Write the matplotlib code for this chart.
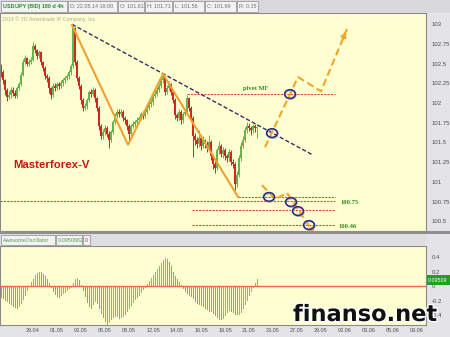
import matplotlib
matplotlib.use('Agg')
import matplotlib.pyplot as plt
from matplotlib.patches import Rectangle, Ellipse
import matplotlib.patheffects as pe
import numpy as np

# ---------------- data ----------------
first_open = 102.45
closes = [102.39, 102.29, 102.17, 102.08, 102.10, 102.17, 102.13, 102.09, 102.19, 102.24,
          102.36, 102.52, 102.57, 102.50, 102.52, 102.55, 102.72, 102.67, 102.60, 102.65,
          102.52, 102.45, 102.34, 102.32, 102.19, 102.10, 102.22, 102.19, 102.24, 102.22,
          102.25, 102.29, 102.32, 102.34, 102.39, 102.47, 102.95, 102.52, 102.32, 102.22,
          102.04, 101.94, 101.96, 102.04, 102.14, 102.12, 102.17, 102.06, 101.94, 101.71,
          101.58, 101.63, 101.68, 101.61, 101.53, 101.63, 101.76, 101.84, 101.89, 101.86,
          101.89, 101.81, 101.78, 101.71, 101.61, 101.71, 101.73, 101.76, 101.78, 101.81,
          101.86, 101.84, 101.89, 101.94, 101.99, 102.01, 102.09, 102.12, 102.17, 102.22,
          102.29, 102.33, 102.14, 102.19, 102.24, 102.14, 102.04, 101.85, 101.81, 101.89,
          101.78, 101.86, 101.89, 102.06, 101.94, 101.81, 101.58, 101.53, 101.48, 101.56,
          101.46, 101.53, 101.48, 101.43, 101.51, 101.33, 101.23, 101.18, 101.40, 101.46,
          101.35, 101.40, 101.33, 101.30, 101.38, 101.25, 101.23, 100.97, 101.09, 101.30,
          101.46, 101.53, 101.66, 101.71, 101.68, 101.66, 101.71, 101.68, 101.69]
highs = [102.50, 102.42, 102.31, 102.19, 102.15, 102.20, 102.21, 102.16, 102.22, 102.27,
         102.39, 102.56, 102.61, 102.59, 102.56, 102.58, 102.77, 102.75, 102.69, 102.68,
         102.66, 102.54, 102.47, 102.37, 102.34, 102.21, 102.25, 102.26, 102.27, 102.27,
         102.29, 102.32, 102.35, 102.37, 102.42, 102.50, 103.00, 102.97, 102.55, 102.35,
         102.24, 102.07, 102.00, 102.07, 102.17, 102.18, 102.20, 102.19, 102.08, 101.96,
         101.74, 101.67, 101.72, 101.71, 101.64, 101.66, 101.79, 101.87, 101.93, 101.92,
         101.93, 101.91, 101.84, 101.80, 101.73, 101.74, 101.77, 101.79, 101.82, 101.84,
         101.89, 101.90, 101.92, 101.97, 102.03, 102.05, 102.12, 102.16, 102.20, 102.25,
         102.33, 102.37, 102.35, 102.23, 102.28, 102.26, 102.16, 102.06, 101.88, 101.92,
         101.91, 101.89, 101.93, 102.10, 102.08, 101.96, 101.83, 101.62, 101.57, 101.66,
         101.59, 101.58, 101.55, 101.52, 101.60, 101.53, 101.36, 101.26, 101.43, 101.52,
         101.48, 101.44, 101.43, 101.36, 101.42, 101.40, 101.29, 101.25, 101.14, 101.34,
         101.50, 101.58, 101.70, 101.76, 101.75, 101.71, 101.74, 101.73, 101.71]
lows = [102.33, 102.24, 102.10, 102.03, 102.05, 102.07, 102.09, 102.06, 102.07, 102.16,
        102.22, 102.34, 102.49, 102.47, 102.47, 102.49, 102.53, 102.63, 102.56, 102.57,
        102.48, 102.41, 102.30, 102.27, 102.13, 102.05, 102.08, 102.15, 102.16, 102.18,
        102.19, 102.22, 102.26, 102.29, 102.31, 102.36, 102.44, 102.48, 102.28, 102.18,
        101.99, 101.90, 101.91, 101.93, 102.01, 102.08, 102.09, 102.02, 101.90, 101.66,
        101.54, 101.55, 101.60, 101.57, 101.43, 101.50, 101.61, 101.73, 101.81, 101.82,
        101.83, 101.77, 101.74, 101.66, 101.53, 101.58, 101.68, 101.70, 101.73, 101.75,
        101.78, 101.80, 101.81, 101.86, 101.91, 101.95, 101.98, 102.06, 102.09, 102.14,
        102.19, 102.26, 102.10, 102.11, 102.16, 102.10, 102.00, 101.80, 101.77, 101.78,
        101.74, 101.75, 101.83, 101.86, 101.90, 101.76, 101.31, 101.47, 101.43, 101.44,
        101.41, 101.43, 101.43, 101.38, 101.40, 101.28, 101.17, 101.11, 101.15, 101.36,
        101.31, 101.30, 101.28, 101.25, 101.26, 101.21, 101.18, 100.90, 100.94, 101.06,
        101.27, 101.43, 101.50, 101.62, 101.64, 101.60, 101.62, 101.63, 101.56]
ao_values = [-0.15, -0.17, -0.19, -0.21, -0.23, -0.25, -0.27, -0.29, -0.30, -0.28,
             -0.24, -0.18, -0.12, -0.06, 0.00, 0.05, 0.10, 0.15, 0.18, 0.20,
             0.19, 0.17, 0.14, 0.10, 0.04, -0.02, -0.07, -0.11, -0.14, -0.15,
             -0.13, -0.10, -0.08, -0.05, -0.03, -0.01, 0.04, 0.09, 0.11, 0.08,
             0.02, -0.06, -0.14, -0.22, -0.28, -0.31, -0.25, -0.20, -0.24, -0.30,
             -0.37, -0.43, -0.48, -0.52, -0.50, -0.46, -0.43, -0.42, -0.42, -0.44,
             -0.43, -0.41, -0.38, -0.34, -0.30, -0.26, -0.22, -0.18, -0.15, -0.12,
             -0.08, -0.04, -0.01, 0.03, 0.07, 0.11, 0.15, 0.19, 0.23, 0.27,
             0.32, 0.36, 0.38, 0.37, 0.33, 0.27, 0.20, 0.14, 0.10, 0.05,
             0.01, -0.03, -0.07, -0.10, -0.12, -0.14, -0.17, -0.20, -0.23, -0.25,
             -0.26, -0.28, -0.30, -0.32, -0.34, -0.35, -0.37, -0.40, -0.43, -0.45,
             -0.46, -0.44, -0.40, -0.36, -0.33, -0.34, -0.36, -0.38, -0.39, -0.38,
             -0.36, -0.31, -0.25, -0.19, -0.13, -0.07, -0.02, 0.04, 0.095]

date_labels = ['29.04', '01.05', '02.05', '06.05', '08.05', '12.05', '14.05', '16.05', '19.05',
               '21.05', '23.05', '27.05', '29.05', '02.06', '03.06', '05.06', '09.06']
date_first_bar = 16
bars_per_label = 12

price_ticks = [100.5, 100.75, 101.0, 101.25, 101.5, 101.75, 102.0, 102.25, 102.5, 102.75, 103.0]
ao_ticks = [-0.4, -0.2, 0.0, 0.2, 0.4]

# annotation geometry (bar index, price)
trend_x = [35.5, 156.0]
trend_p = [103.00, 101.34]
zigzag_x = [35.5, 63.5, 81.0, 118.5]
zigzag_p = [102.99, 101.47, 102.37, 100.81]
proj_up_x = [132.0, 148.5, 160.0, 173.0]
proj_up_p = [101.44, 102.33, 102.15, 102.94]
proj_dn_x = [130.5, 137.0, 143.0, 157.5]
proj_dn_p = [100.96, 100.78, 100.86, 100.31]
circle_x = [135.5, 144.5, 134.0, 145.0, 148.5, 154.0]
circle_p = [101.62, 102.115, 100.81, 100.745, 100.63, 100.453]
level_p = [102.11, 100.81, 100.76, 100.64, 100.45]
level_x0 = [93.0, 118.5, -0.5, 95.5, 95.5]
level_x1 = [167.0, 167.0, 167.0, 167.0, 167.0]

# ---------------- figure ----------------
W, H = 450, 337
fig = plt.figure(figsize=(W / 100, H / 100), dpi=100)
fig.patch.set_facecolor('#e3e3e8')


def fx(px):
    return px / W


def fy(py):
    return 1 - py / H


BG = '#ffffd2'
ax = fig.add_axes([0, fy(231), fx(426), fy(12.7) - fy(231)])
axo = fig.add_axes([0, fy(325), fx(426), fy(246) - fy(325)])
for a in (ax, axo):
    a.set_facecolor(BG)
    for s in a.spines.values():
        s.set_color('#8a8a8a')
        s.set_linewidth(0.8)
    a.set_xlim(-0.5, 212.5)

# candles
closes_a = np.array(closes)
opens_a = np.array([first_open] + closes[:-1])
idx = np.arange(len(closes_a))
is_up = closes_a >= opens_a
ccol = np.where(is_up, '#5cb84a', '#d42424')
ax.vlines(idx, lows, highs, colors=ccol, lw=0.7, zorder=2)
body_lo = np.minimum(opens_a, closes_a)
body_h = np.maximum(np.abs(closes_a - opens_a), 0.012)
ax.bar(idx, body_h, bottom=body_lo, width=0.9, color=ccol, lw=0, zorder=2)

ax.set_ylim(100.377, 103.147)
ax.set_xticks([])
ax.yaxis.tick_right()
ax.set_yticks(price_ticks)
ax.set_yticklabels(['%g' % v for v in price_ticks])
ax.tick_params(axis='y', length=0, pad=4, labelsize=4.3, colors='#505050')
for t in ax.get_yticklabels():
    t.set_fontfamily('Liberation Sans')

# level lines
for p, x0, x1 in zip(level_p, level_x0, level_x1):
    ax.plot([x0, x1], [p, p], color='#e04a3a', lw=0.8, ls=(0, (2, 1)), zorder=3)

# trend line
ax.plot(trend_x, trend_p, color='#30306a', lw=1.0, ls=(0, (3, 1.6)), zorder=4)
# zigzag
ax.plot(zigzag_x, zigzag_p, color='#f0a030', lw=1.5, zorder=4, solid_joinstyle='miter')

ORG = '#f5a524'
for xs, ps in ((proj_up_x, proj_up_p), (proj_dn_x, proj_dn_p)):
    ax.plot(xs, ps, color=ORG, lw=1.5, ls=(0, (3.5, 1.8)), zorder=4, clip_on=False)
    sx = xs[-2] + 0.8 * (xs[-1] - xs[-2])
    sp = ps[-2] + 0.8 * (ps[-1] - ps[-2])
    ax.annotate('', xy=(xs[-1], ps[-1]), xytext=(sx, sp),
                arrowprops=dict(arrowstyle='-|>', color=ORG, lw=1.3, mutation_scale=8),
                annotation_clip=False, zorder=5)

for cx, cp in zip(circle_x, circle_p):
    ax.add_patch(Ellipse((cx + 0.3, cp - 0.012), 5.4, 0.11, fill=False, ec='#b0b0b0', lw=1.0, zorder=5))
    ax.add_patch(Ellipse((cx, cp), 5.4, 0.11, fill=False, ec='#2a2a80', lw=1.1, zorder=6))

GRN = '#2e8b22'
ax.text(127.5, 102.19, 'pivot MF', color=GRN, fontsize=4.6, fontweight='bold',
        family='Liberation Serif', ha='center', va='center', zorder=6)
ax.text(174.5, 100.74, '100.75', color=GRN, fontsize=4.8, fontweight='bold',
        family='Liberation Serif', ha='center', va='center', zorder=6)
ax.text(173.5, 100.44, '100.46', color=GRN, fontsize=4.8, fontweight='bold',
        family='Liberation Serif', ha='center', va='center', zorder=6)

# oscillator
ao = np.array(ao_values)
ao_rise = np.concatenate([[False], ao[1:] >= ao[:-1]])
acol = np.where(ao_rise, '#80c452', '#ee7c56')
axo.vlines(idx, 0, ao, colors=acol, lw=0.5, antialiased=False, zorder=2)
axo.axhline(0, color='#f06848', lw=1.0, zorder=3)
axo.set_ylim(-0.538, 0.552)
axo.yaxis.tick_right()
axo.set_yticks(ao_ticks)
axo.set_yticklabels(['%g' % v for v in ao_ticks])
axo.tick_params(axis='y', length=0, pad=4, labelsize=4.3, colors='#505050')
tick_pos = [date_first_bar + bars_per_label * k for k in range(len(date_labels))]
axo.set_xticks(tick_pos)
axo.set_xticklabels(date_labels)
axo.tick_params(axis='x', length=0, pad=2, labelsize=4.0, colors='#505050')
for t in axo.get_yticklabels() + axo.get_xticklabels():
    t.set_fontfamily('Liberation Sans')

# ---------------- chrome ----------------
def frect(x0, y0, x1, y1, fc, ec='none', lw=0.6, z=0):
    fig.patches.append(Rectangle((fx(x0), fy(y1)), fx(x1) - fx(x0), fy(y0) - fy(y1),
                                 transform=fig.transFigure, fc=fc, ec=ec, lw=lw, zorder=z))

# top header
frect(0, 0, 450, 12.5, '#d9d9dd')
hdr = [(1, 67, 'USD/JPY (BID) 180 d 4h', '#2a8a2a', 'bold'),
       (68, 117, 'D: 22.05.14 16:00', '#707070', 'normal'),
       (118, 144, 'O: 101.61', '#707070', 'normal'),
       (145, 172, 'H: 101.71', '#707070', 'normal'),
       (173, 204, 'L: 101.56', '#707070', 'normal'),
       (205, 236, 'C: 101.69', '#707070', 'normal'),
       (237, 258, 'R: 0.15', '#707070', 'normal')]
for x0, x1, txt, col, wgt in hdr:
    frect(x0, 1, x1, 11.5, '#f2f2f2', '#9a9a9a', 0.6, 1)
    fig.text(fx(x0 + 2), fy(6.5), txt, color=col, fontsize=3.9, fontweight=wgt,
             family='Liberation Sans', ha='left', va='center')

fig.text(fx(2), fy(19), '2014 \u00a9 TD Ameritrade IP Company, Inc.', color='#a8a8a0',
         fontsize=3.8, family='Liberation Sans', ha='left', va='center')

fig.text(fx(13), fy(165), 'Masterforex-V', color='#cc1414', fontsize=8.2, fontweight='bold',
         family='Liberation Sans', ha='left', va='center')

# separator and oscillator header
frect(0, 231, 450, 233.5, '#8e8e8e', z=1)
frect(0, 233.5, 426, 246, '#dedee2', z=1)
ohdr = [(1, 55, 'AwesomeOscillator', '#50a050'),
        (56, 82, '0.0950882', '#50a050'),
        (83, 90, '0', '#d03030')]
for x0, x1, txt, col in ohdr:
    frect(x0, 234.5, x1, 245, '#f2f2f2', '#9a9a9a', 0.6, 2)
    fig.text(fx(x0 + 1.5), fy(240), txt, color=col, fontsize=3.9,
             family='Liberation Sans', ha='left', va='center', zorder=3)

# value tag on oscillator axis
frect(427, 274.5, 450, 285, '#22a022', z=2)
fig.text(fx(428), fy(280), '0.09509', color='white', fontsize=3.8,
         family='Liberation Sans', ha='left', va='center', zorder=3)

# watermark
fig.text(fx(293), fy(321), 'finanso.net', color='#111111', fontsize=16.2, fontweight='bold',
         family='DejaVu Sans', ha='left', va='baseline', zorder=10,
         path_effects=[pe.withStroke(linewidth=2, foreground='white')])

fig.savefig('out.png', dpi=100, facecolor=fig.get_facecolor())
